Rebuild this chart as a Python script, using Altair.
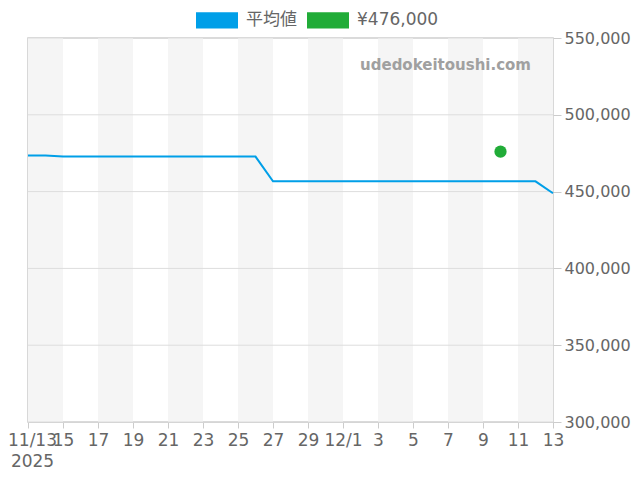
import pandas as pd
import altair as alt

# daily average price, 2025-11-13 .. 2025-12-13
dates = pd.date_range("2025-11-13", "2025-12-13", freq="D").strftime("%Y-%m-%d").tolist()
avg_price = [
    473500, 473500,
    472800, 472800, 472800, 472800, 472800, 472800,
    472800, 472800, 472800, 472800, 472800, 472800,
    456700, 456700, 456700, 456700, 456700, 456700,
    456700, 456700, 456700, 456700, 456700, 456700,
    456700, 456700, 456700, 456700,
    448900,
]

# single listing
listing_date = ["2025-12-10"]
listing_price = [476000]

series_names = ["平均値", "¥476,000"]
series_colors = ["#009fe8", "#21ac38"]

# shaded columns behind the plot
band_start = ["2025-11-13", "2025-11-17", "2025-11-21", "2025-11-25",
              "2025-11-29", "2025-12-03", "2025-12-07", "2025-12-11"]
band_end = ["2025-11-15", "2025-11-19", "2025-11-23", "2025-11-27",
            "2025-12-01", "2025-12-05", "2025-12-09", "2025-12-13"]

tick_days = ["2025-11-13", "2025-11-15", "2025-11-17", "2025-11-19", "2025-11-21",
             "2025-11-23", "2025-11-25", "2025-11-27", "2025-11-29", "2025-12-01",
             "2025-12-03", "2025-12-05", "2025-12-07", "2025-12-09", "2025-12-11",
             "2025-12-13"]
y_ticks = [300000, 350000, 400000, 450000, 500000, 550000]

df_line = pd.DataFrame({"date": dates, "price": avg_price, "series": series_names[0]})
df_point = pd.DataFrame({"date": listing_date, "price": listing_price, "series": series_names[1]})
df_bands = pd.DataFrame({"start": band_start, "end": band_end})

def dt(s):
    y, m, d = [int(p) for p in s.split("-")]
    return alt.DateTime(year=y, month=m, date=d, utc=True)

font = "DejaVu Sans, Noto Sans CJK JP"

x_scale = alt.Scale(type="utc", domain=[dt(dates[0]), dt(dates[-1])])
y_scale = alt.Scale(domain=[300000, 550000], nice=False)

label_expr = (
    "utcmonth(datum.value) == 10 && utcdate(datum.value) == 13 ? ['11/13', '2025'] : "
    "utcdate(datum.value) == 1 ? utcFormat(datum.value, '%-m/%-d') : utcFormat(datum.value, '%-d')"
)

x_axis = alt.Axis(values=[dt(d) for d in tick_days], labelExpr=label_expr, title=None,
                  grid=False, domainColor="#cccccc", tickColor="#cccccc", tickSize=6,
                  labelPadding=4, labelLineHeight=21, labelOverlap=False, labelFlush=False,
                  labelOffset={"condition": {"test": "datum.index == 0", "value": 4}, "value": 0})
# right-hand axis; a hair smaller than 17px so the labels stay inside the page
y_axis = alt.Axis(values=y_ticks, format=",d", orient="right", title=None,
                  grid=False, domain=False, tickColor="#cccccc", tickSize=8,
                  labelPadding=3, labelOverlap=False, labelFontSize=16)

bands = alt.Chart(df_bands).mark_rect(color="#f5f5f5").encode(
    x=alt.X("start:T", scale=x_scale, axis=x_axis),
    x2="end:T",
)

grid = alt.Chart(pd.DataFrame({"price": y_ticks})).mark_rule(color="#dddddd", strokeWidth=1).encode(
    y=alt.Y("price:Q", scale=y_scale, axis=y_axis)
)

color = alt.Color("series:N", scale=alt.Scale(domain=series_names, range=series_colors),
                  legend=alt.Legend(title=None, orient="none", legendX=168, legendY=-39,
                                    direction="horizontal",
                                    symbolType="M-1,-0.39H1V0.39H-1Z", symbolSize=1764,
                                    symbolStrokeWidth=0, symbolOpacity=1,
                                    labelFontSize=17, labelColor="#666666", labelFont=font,
                                    labelOffset=8, columnPadding=10))

points = alt.Chart(df_point).mark_circle(size=150, opacity=1).encode(
    x=alt.X("date:T", scale=x_scale, axis=x_axis),
    y=alt.Y("price:Q", scale=y_scale, axis=y_axis),
    color=color,
)

line = alt.Chart(df_line).mark_line(strokeWidth=2).encode(
    x=alt.X("date:T", scale=x_scale, axis=x_axis),
    y=alt.Y("price:Q", scale=y_scale, axis=y_axis),
    color=color,
)

watermark = alt.Chart(pd.DataFrame({"t": ["udedokeitoushi.com"]})).mark_text(
    align="right", baseline="middle", fontSize=15, fontWeight="bold",
    color="#a0a0a0", font="DejaVu Sans"
).encode(text="t:N", x=alt.value(503), y=alt.value(27))

chart = alt.layer(bands, grid, points, line, watermark).properties(
    width=525, height=384,
    autosize=alt.AutoSizeParams(type="none"),
    padding={"left": 20, "top": 30, "right": 79, "bottom": 50},
).configure_view(
    stroke="#cccccc", strokeWidth=1.5
).configure_axis(
    labelFont=font, labelFontSize=17, labelColor="#666666"
)

chart.save("out.html", embed_options={"renderer": "svg", "actions": False})
